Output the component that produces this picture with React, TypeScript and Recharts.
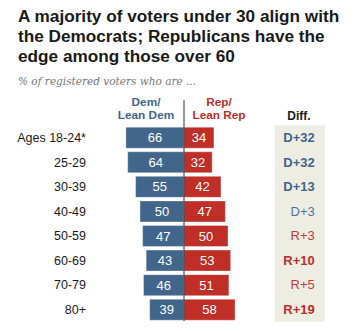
import React from 'react';
import {
  BarChart,
  Bar,
  XAxis,
  YAxis,
  LabelList,
  ReferenceLine,
  ReferenceArea,
} from 'recharts';

const ageGroups = ['Ages 18-24*', '25-29', '30-39', '40-49', '50-59', '60-69', '70-79', '80+'];
const demShares = [66, 64, 55, 50, 47, 43, 46, 39];
const repShares = [34, 32, 42, 47, 50, 53, 51, 58];
const diffLabels = ['D+32', 'D+32', 'D+13', 'D+3', 'R+3', 'R+10', 'R+5', 'R+19'];
const diffBold = [true, true, true, false, false, true, false, true];

const colors = {
  dem: '#41658b',
  rep: '#bf2e27',
  demSoft: '#4f73a0',
  repSoft: '#c93a32',
  band: '#eeede3',
  axis: '#333333',
  text: '#1a1a1a',
  muted: '#767676',
};

const FONT = '"Liberation Sans", Arial, sans-serif';

const data = ageGroups.map((age, i) => ({
  age,
  dem: -demShares[i],
  rep: repShares[i],
}));

// right-hand category axis used as the "Diff." column
const DiffTick = (props: any) => {
  const { x, y, payload } = props;
  const i = ageGroups.indexOf(payload.value);
  const isDem = diffLabels[i].startsWith('D');
  const bold = diffBold[i];
  const fill = isDem ? (bold ? colors.dem : colors.demSoft) : bold ? colors.rep : colors.repSoft;
  return (
    <text
      x={x - 10}
      y={y}
      dy={4.5}
      textAnchor="end"
      fontFamily={FONT}
      fontSize={13}
      fontWeight={bold ? 700 : 400}
      fill={fill}
    >
      {diffLabels[i]}
    </text>
  );
};

const AxisLine = (props: any) => {
  const { x1, y1, x2, y2 } = props;
  return <line x1={x1} y1={y1 - 4} x2={x2} y2={y2} stroke={colors.axis} strokeWidth={1} />;
};

export default function App() {
  return (
    <div
      style={{
        position: 'absolute',
        left: 0,
        top: 0,
        width: 363,
        height: 331,
        background: '#fff',
        fontFamily: FONT,
      }}
    >
      <div
        style={{
          position: 'absolute',
          left: 18,
          top: 6,
          width: 340,
          fontSize: 17.2,
          lineHeight: '20px',
          fontWeight: 700,
          color: colors.text,
        }}
      >
        A majority of voters under 30 align with the Democrats; Republicans have the edge among
        those over 60
      </div>
      <div
        style={{
          position: 'absolute',
          left: 18,
          top: 75,
          fontSize: 10.5,
          fontStyle: 'italic',
          fontFamily: '"DejaVu Serif", Georgia, serif',
          color: colors.muted,
        }}
      >
        % of registered voters who are ...
      </div>

      <BarChart
        width={363}
        height={331}
        data={data}
        layout="vertical"
        stackOffset="sign"
        barSize={21}
        margin={{ top: 100, right: 0, bottom: 6, left: 0 }}
        style={{ position: 'absolute', left: 0, top: 0 }}
      >
        <ReferenceArea x1={103} x2={160} fill={colors.band} fillOpacity={1} stroke="none" />
        <XAxis type="number" domain={[-80, 160]} hide allowDataOverflow />
        <YAxis
          type="category"
          dataKey="age"
          width={113.6}
          axisLine={false}
          tickLine={false}
          tickSize={0}
          tickMargin={27.6}
          padding={{ top: 25.2, bottom: 3.2 }}
          tick={{ fill: colors.text, fontSize: 12.5, fontFamily: FONT }}
          interval={0}
        />
        <YAxis
          yAxisId="diff"
          orientation="right"
          type="category"
          dataKey="age"
          width={38.2}
          axisLine={false}
          tickLine={false}
          tickSize={0}
          tickMargin={0}
          padding={{ top: 25.2, bottom: 3.2 }}
          tick={<DiffTick />}
          interval={0}
        />
        <Bar
          dataKey="dem"
          stackId="a"
          fill={colors.dem}
          stroke="#ffffff"
          strokeOpacity={0.35}
          isAnimationActive={false}
        >
          <LabelList
            dataKey="dem"
            position="center"
            formatter={(v: any) => Math.abs(Number(v))}
            fill="#ffffff"
            fontSize={13}
            fontFamily={FONT}
          />
        </Bar>
        <Bar
          dataKey="rep"
          stackId="a"
          fill={colors.rep}
          stroke="#ffffff"
          strokeOpacity={0.35}
          isAnimationActive={false}
        >
          <LabelList
            dataKey="rep"
            position="center"
            fill="#ffffff"
            fontSize={13}
            fontFamily={FONT}
          />
        </Bar>
        <ReferenceLine x={0} shape={<AxisLine />} />
      </BarChart>

      <div
        style={{
          position: 'absolute',
          left: 106,
          top: 96,
          width: 80,
          textAlign: 'center',
          fontSize: 11.8,
          lineHeight: '13px',
          fontWeight: 700,
          color: colors.dem,
        }}
      >
        Dem/
        <br />
        Lean Dem
      </div>
      <div
        style={{
          position: 'absolute',
          left: 179,
          top: 96,
          width: 80,
          textAlign: 'center',
          fontSize: 11.8,
          lineHeight: '13px',
          fontWeight: 700,
          color: colors.rep,
        }}
      >
        Rep/
        <br />
        Lean Rep
      </div>
      <div
        style={{
          position: 'absolute',
          left: 274,
          top: 109,
          width: 50,
          textAlign: 'center',
          fontSize: 12,
          lineHeight: '14px',
          fontWeight: 700,
          color: colors.text,
        }}
      >
        Diff.
      </div>
    </div>
  );
}
